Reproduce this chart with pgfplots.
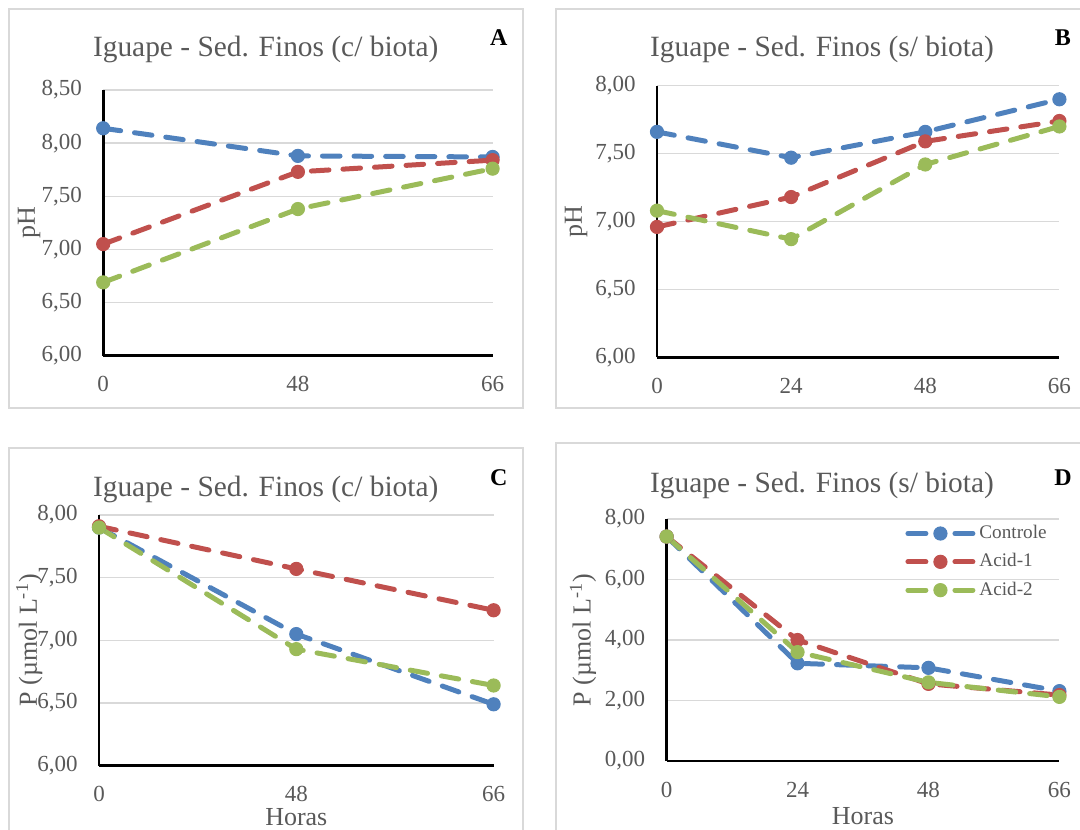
\documentclass[border=0pt]{standalone}
\usepackage{fontspec}
\setmainfont{Liberation Serif}
\usepackage{pgfplots}
\pgfplotsset{compat=1.18}
\definecolor{cblue}{HTML}{4F81BD}
\definecolor{cred}{HTML}{C0504D}
\definecolor{cgreen}{HTML}{9BBB59}
\definecolor{txt}{HTML}{595959}
\definecolor{grd}{HTML}{D9D9D9}

\pgfplotsset{
 panel/.style={
  scale only axis, clip=false,
  axis x line*=bottom, axis y line*=left,
  axis line style={black, line width=1.3pt},
  major tick length=0pt,
  ymajorgrids, grid style={grd, line width=0.75pt},
  tick label style={font=\fontsize{11.5}{13}\selectfont, text=txt},
  /pgf/number format/assume math mode=true,
  yticklabel style={anchor=east, inner sep=0pt, xshift=-10.5pt,
    /pgf/number format/.cd, fixed, fixed zerofill, precision=2, use comma},
  xticklabel style={anchor=center, inner sep=0pt, yshift=-14.3pt},
  label style={font=\fontsize{13}{15}\selectfont, text=txt},
 },
 ser/.style={line width=2.5pt, dash pattern=on 8.8pt off 7pt, line cap=round,
   mark=*, mark size=3.3pt, mark options={solid, line width=0.5pt}},
}

\begin{document}
\begin{tikzpicture}
\useasboundingbox (0,0) rectangle (540pt,-414.5pt);
\begin{scope}
\clip (0,0) rectangle (540pt,-414.5pt);
\draw[grd, line width=1.1pt] (4.3pt,-4.65pt) rectangle (261.4pt,-204.15pt);
\draw[grd, line width=1.1pt] (278pt,-4.5pt) rectangle (545pt,-204.15pt);
\draw[grd, line width=1.1pt] (4.3pt,-224pt) rectangle (261.4pt,-420pt);
\draw[grd, line width=1.1pt] (278pt,-221.65pt) rectangle (545pt,-420pt);
\end{scope}

% titles and panel letters
\node[anchor=base, text=txt, font=\fontsize{14.7}{17}\selectfont] at (132.85pt,-28.35pt) {Iguape - Sed. Finos (c/ biota)};
\node[anchor=base, text=txt, font=\fontsize{14.7}{17}\selectfont] at (411pt,-28.35pt) {Iguape - Sed. Finos (s/ biota)};
\node[anchor=base, text=txt, font=\fontsize{14.7}{17}\selectfont] at (132.85pt,-248pt) {Iguape - Sed. Finos (c/ biota)};
\node[anchor=base, text=txt, font=\fontsize{14.7}{17}\selectfont] at (411pt,-246.35pt) {Iguape - Sed. Finos (s/ biota)};
\node[anchor=base, font=\fontsize{12}{14}\selectfont\bfseries] at (249.4pt,-22.85pt) {A};
\node[anchor=base, font=\fontsize{12}{14}\selectfont\bfseries] at (531.45pt,-22.85pt) {B};
\node[anchor=base, font=\fontsize{12}{14}\selectfont\bfseries] at (249.4pt,-242.5pt) {C};
\node[anchor=base, font=\fontsize{12}{14}\selectfont\bfseries] at (531.45pt,-242.5pt) {D};

% Panel A
\begin{axis}[panel, at={(51.6pt,-177.85pt)}, anchor=south west,
  width=194.7pt, height=132.85pt,
  xmin=0, xmax=2, ymin=6, ymax=8.5, ytick={6,6.5,7,7.5,8,8.5},
  xtick={0,1,2}, xticklabels={0,48,66},
  ylabel={pH}, ylabel style={at={([xshift=-37pt]axis description cs:0,0.5)}, anchor=center}]
\addplot[ser, color=cblue] coordinates {(0,8.14) (1,7.88) (2,7.87)};
\addplot[ser, color=cred] coordinates {(0,7.05) (1,7.73) (2,7.84)};
\addplot[ser, color=cgreen] coordinates {(0,6.69) (1,7.38) (2,7.76)};
\end{axis}

% Panel B
\begin{axis}[panel, at={(328.5pt,-178.65pt)}, anchor=south west,
  width=201.2pt, height=135.8pt,
  xmin=0, xmax=3, ymin=6, ymax=8, ytick={6,6.5,7,7.5,8},
  xtick={0,1,2,3}, xticklabels={0,24,48,66},
  ylabel={pH}, ylabel style={at={([xshift=-40.5pt]axis description cs:0,0.5)}, anchor=center}]
\addplot[ser, color=cblue] coordinates {(0,7.66) (1,7.47) (2,7.66) (3,7.90)};
\addplot[ser, color=cred] coordinates {(0,6.96) (1,7.18) (2,7.59) (3,7.74)};
\addplot[ser, color=cgreen] coordinates {(0,7.08) (1,6.87) (2,7.42) (3,7.70)};
\end{axis}

% Panel C
\begin{axis}[panel, at={(49.5pt,-382.85pt)}, anchor=south west,
  width=197.3pt, height=125.35pt,
  xmin=0, xmax=2, ymin=6, ymax=8, ytick={6,6.5,7,7.5,8},
  xtick={0,1,2}, xticklabels={0,48,66},
  xlabel={Horas}, xlabel style={at={([yshift=-25.6pt]axis description cs:0.5,0)}, anchor=center},
  ylabel={P (µmol L\textsuperscript{-1})}, ylabel style={at={([xshift=-34.9pt]axis description cs:0,0.5)}, anchor=center}]
\addplot[ser, color=cblue] coordinates {(0,7.90) (1,7.05) (2,6.49)};
\addplot[ser, color=cred] coordinates {(0,7.91) (1,7.57) (2,7.24)};
\addplot[ser, color=cgreen] coordinates {(0,7.90) (1,6.93) (2,6.64)};
\end{axis}

% Panel D
\begin{axis}[panel, at={(333.3pt,-380.5pt)}, anchor=south west,
  width=196.4pt, height=121pt,
  xmin=0, xmax=3, ymin=0, ymax=8, ytick={0,2,4,6,8},
  xtick={0,1,2,3}, xticklabels={0,24,48,66},
  xlabel={Horas}, xlabel style={at={([yshift=-27.6pt]axis description cs:0.5,0)}, anchor=center},
  ylabel={P (µmol L\textsuperscript{-1})}, ylabel style={at={([xshift=-41.8pt]axis description cs:0,0.5)}, anchor=center},
  legend cell align=left,
  legend style={draw=none, fill=none, at={(axis description cs:0.607,0.992)}, anchor=north west,
    inner sep=0pt, font=\fontsize{9.6}{11}\selectfont, text=txt, row sep=2pt,
    /tikz/every even column/.append style={column sep=4pt}},
  legend image code/.code={
    \draw[#1, solid] (1.25pt,0pt) -- (10.25pt,0pt);
    \draw[#1, solid] (24.75pt,0pt) -- (33.75pt,0pt);
    \draw[#1, only marks] plot coordinates {(17.5pt,0pt)};}]
\addplot[ser, color=cblue] coordinates {(0,7.42) (1,3.23) (2,3.08) (3,2.31)};
\addlegendentry{Controle}
\addplot[ser, color=cred] coordinates {(0,7.42) (1,4.00) (2,2.55) (3,2.18)};
\addlegendentry{Acid-1}
\addplot[ser, color=cgreen] coordinates {(0,7.42) (1,3.60) (2,2.60) (3,2.12)};
\addlegendentry{Acid-2}
\end{axis}
\end{tikzpicture}
\end{document}
